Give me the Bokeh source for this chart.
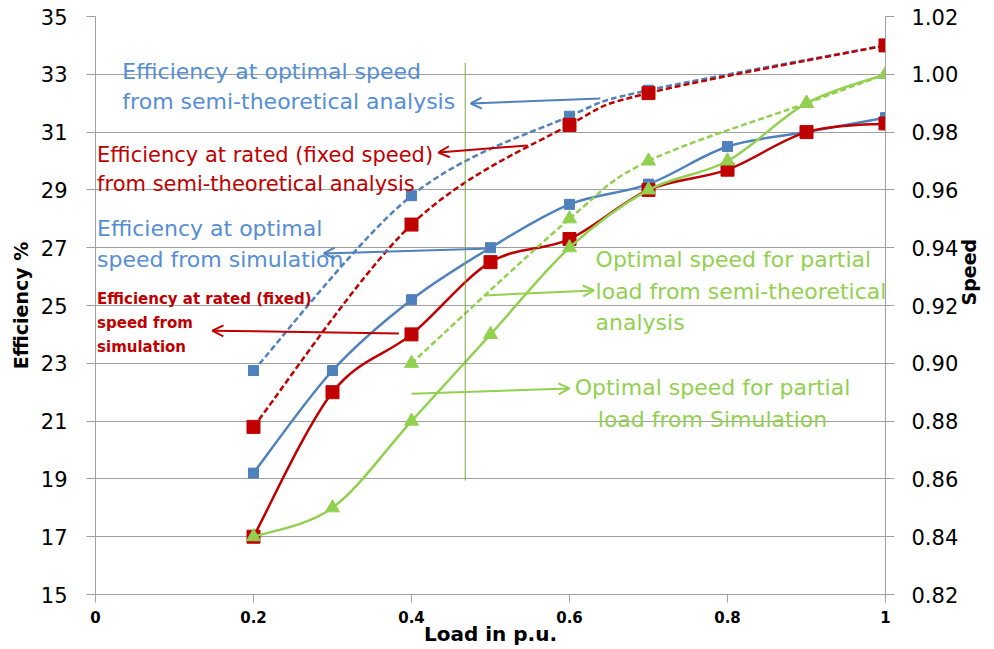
import math
from bokeh.plotting import figure
from bokeh.models import Range1d, LinearAxis, FixedTicker, Arrow, OpenHead
from bokeh.core.properties import value
from bokeh.embed import file_html
from bokeh.resources import INLINE

# ---------------- data ----------------
load_sim = [0.2, 0.3, 0.4, 0.5, 0.6, 0.7, 0.8, 0.9, 1.0]
eff_opt_sim = [19.2, 22.75, 25.2, 27.0, 28.5, 29.2, 30.5, 31.0, 31.5]
eff_rated_sim = [17.0, 22.0, 24.0, 26.5, 27.3, 29.0, 29.7, 31.0, 31.3]
speed_sim = [0.84, 0.85, 0.88, 0.91, 0.94, 0.96, 0.97, 0.99, 1.00]

load_theo = [0.2, 0.4, 0.6, 0.7, 1.0]
eff_opt_theo = [22.75, 28.8, 31.55, 32.45, 34.0]
eff_rated_theo = [20.8, 27.8, 31.25, 32.35, 34.0]

load_speed_theo = [0.4, 0.6, 0.7, 0.9, 1.0]
speed_theo = [0.90, 0.95, 0.97, 0.99, 1.00]

x_ticks = [0, 0.2, 0.4, 0.6, 0.8, 1.0]
x_tick_labels = ["0", "0.2", "0.4", "0.6", "0.8", "1"]
eff_ticks = [15, 17, 19, 21, 23, 25, 27, 29, 31, 33, 35]
speed_ticks = [0.82, 0.84, 0.86, 0.88, 0.90, 0.92, 0.94, 0.96, 0.98, 1.00, 1.02]

BLUE = "#4F81BD"
BLUE_TXT = "#558ED5"
RED = "#C00000"
GREEN = "#92D050"
GRID = "#A0A0A0"
FONT = "DejaVu Sans"

p = figure(width=994, height=649, output_backend="svg", toolbar_location=None,
           x_range=Range1d(0, 1), y_range=Range1d(15, 35),
           min_border_left=95, min_border_right=104, min_border_top=16,
           min_border_bottom=55)
p.extra_y_ranges = {"speed": Range1d(0.82, 1.02)}
p.outline_line_color = None
p.background_fill_color = "white"
p.xgrid.visible = False
p.ygrid.ticker = FixedTicker(ticks=eff_ticks)
p.ygrid.grid_line_color = GRID
p.ygrid.grid_line_width = 1

# x axis
xa = p.xaxis[0]
xa.ticker = FixedTicker(ticks=x_ticks)
xa.major_label_overrides = {t: l for t, l in zip(x_ticks, x_tick_labels)}
xa.major_label_text_font = FONT
xa.major_label_text_font_style = "bold"
xa.major_label_text_font_size = "15px"
xa.major_label_text_color = "black"
xa.major_label_standoff = 8
xa.axis_line_color = GRID
xa.major_tick_line_color = GRID
xa.major_tick_out = 8
xa.major_tick_in = 0
xa.minor_tick_line_color = None
xa.axis_label = "Load in p.u."
xa.axis_label_text_font = FONT
xa.axis_label_text_font_style = "bold"
xa.axis_label_text_font_size = "20px"
xa.axis_label_text_color = "black"
xa.axis_label_standoff = -4

# left axis
ya = p.yaxis[0]
ya.ticker = FixedTicker(ticks=eff_ticks)
ya.major_label_text_font = FONT
ya.major_label_text_font_size = "21px"
ya.major_label_text_color = "black"
ya.major_label_standoff = 19
ya.axis_line_color = GRID
ya.major_tick_line_color = GRID
ya.major_tick_out = 9
ya.major_tick_in = 0
ya.minor_tick_line_color = None
ya.axis_label = "Efficiency %"
ya.axis_label_text_font = FONT
ya.axis_label_text_font_style = "bold"
ya.axis_label_text_font_size = "19px"
ya.axis_label_text_color = "black"
ya.axis_label_standoff = 6

# right axis
ra = LinearAxis(y_range_name="speed", ticker=FixedTicker(ticks=speed_ticks))
ra.major_label_overrides = {t: f"{t:.2f}" for t in speed_ticks}
ra.major_label_text_font = FONT
ra.major_label_text_font_size = "21px"
ra.major_label_text_color = "black"
ra.major_label_standoff = 17
ra.axis_line_color = GRID
ra.major_tick_line_color = GRID
ra.major_tick_out = 9
ra.major_tick_in = 0
ra.minor_tick_line_color = None
ra.axis_label = "Speed"
ra.axis_label_text_font = FONT
ra.axis_label_text_font_style = "bold"
ra.axis_label_text_font_size = "19px"
ra.axis_label_text_color = "black"
ra.axis_label_standoff = 8
if "axis_label_orientation" in ra.properties():
    ra.axis_label_orientation = math.pi / 2
p.add_layout(ra, "right")


def smooth(xs, ys, color, dash="solid", width=2.5, y_range_name="default"):
    n = len(xs)
    d = dict(x0=[], y0=[], x1=[], y1=[], cx0=[], cy0=[], cx1=[], cy1=[])
    for i in range(n - 1):
        xm, ym = (xs[i - 1], ys[i - 1]) if i > 0 else (xs[i], ys[i])
        xp, yp = (xs[i + 2], ys[i + 2]) if i + 2 < n else (xs[i + 1], ys[i + 1])
        d["x0"].append(xs[i]); d["y0"].append(ys[i])
        d["x1"].append(xs[i + 1]); d["y1"].append(ys[i + 1])
        d["cx0"].append(xs[i] + (xs[i + 1] - xm) / 6)
        d["cy0"].append(ys[i] + (ys[i + 1] - ym) / 6)
        d["cx1"].append(xs[i + 1] - (xp - xs[i]) / 6)
        d["cy1"].append(ys[i + 1] - (yp - ys[i]) / 6)
    p.bezier(line_color=color, line_width=width, line_dash=dash,
             y_range_name=y_range_name, **d)


# series (draw order)
smooth(load_theo, eff_opt_theo, BLUE, dash="6 3")
p.scatter(load_theo, eff_opt_theo, marker="square", size=10, color=BLUE)
smooth(load_theo, eff_rated_theo, RED, dash="6 3")
p.scatter(load_theo, eff_rated_theo, marker="square", size=13, color=RED)
smooth(load_sim, eff_opt_sim, BLUE)
p.scatter(load_sim, eff_opt_sim, marker="square", size=10, color=BLUE)
smooth(load_sim, eff_rated_sim, RED)
p.scatter(load_sim, eff_rated_sim, marker="square", size=13, color=RED)
smooth(load_speed_theo, speed_theo, GREEN, dash="6 3", y_range_name="speed")
p.scatter(load_speed_theo, speed_theo, marker="triangle", size=14, color=GREEN,
          y_range_name="speed")
smooth(load_sim, speed_sim, GREEN, y_range_name="speed")
p.scatter(load_sim, speed_sim, marker="triangle", size=14, color=GREEN,
          y_range_name="speed")

# thin vertical green stroke
p.segment(x0=[0.468], y0=[33.4], x1=[0.468], y1=[18.94], line_color="#7FA83F",
          line_width=1)

# annotation texts
ann = [
    (0.034, 33.10, "Efficiency  at optimal speed", BLUE_TXT, "22px", "normal", "left"),
    (0.034, 32.06, "from semi-theoretical analysis", BLUE_TXT, "22px", "normal", "left"),
    (0.002, 30.22, "Efficiency at  rated (fixed speed)", RED, "21px", "normal", "left"),
    (0.002, 29.19, "from semi-theoretical analysis", RED, "21px", "normal", "left"),
    (0.002, 27.66, "Efficiency at optimal", BLUE_TXT, "22px", "normal", "left"),
    (0.002, 26.59, "speed from simulation", BLUE_TXT, "22px", "normal", "left"),
    (0.002, 25.24, "Efficiency at rated (fixed)", RED, "15px", "bold", "left"),
    (0.002, 24.38, "speed  from", RED, "15px", "bold", "left"),
    (0.002, 23.55, "simulation", RED, "15px", "bold", "left"),
    (0.633, 26.59, "Optimal speed for partial", GREEN, "22px", "normal", "left"),
    (0.633, 25.48, "load from semi-theoretical", GREEN, "22px", "normal", "left"),
    (0.633, 24.41, "analysis", GREEN, "22px", "normal", "left"),
    (0.781, 22.16, "Optimal speed for partial", GREEN, "22px", "normal", "center"),
    (0.781, 21.06, "load from Simulation", GREEN, "22px", "normal", "center"),
]
for x, y, t, c, fs, st, al in ann:
    p.text(x=[x], y=[y], text=[t], text_color=c, text_font=value(FONT),
           text_font_size=value(fs), text_font_style=st,
           text_align=al, text_baseline="middle")

arrows = [
    (0.639, 32.16, 0.475, 31.99, BLUE),
    (0.547, 30.54, 0.434, 30.29, RED),
    (0.501, 26.97, 0.289, 26.80, BLUE),
    (0.384, 24.03, 0.148, 24.13, RED),
    (0.493, 25.35, 0.631, 25.52, GREEN),
    (0.400, 21.95, 0.600, 22.13, GREEN),
]
for xs_, ys_, xe, ye, c in arrows:
    p.add_layout(Arrow(x_start=xs_, y_start=ys_, x_end=xe, y_end=ye,
                       line_color=c, line_width=2,
                       end=OpenHead(size=11, line_color=c, line_width=2)))

open("out.html", "w").write(file_html(p, INLINE))
